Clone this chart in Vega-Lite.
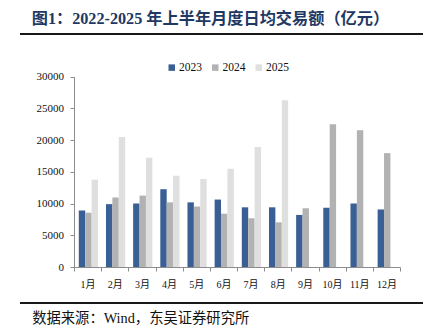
{
  "$schema": "https://vega.github.io/schema/vega-lite/v6.json",
  "width": 403,
  "height": 269,
  "autosize": {"type": "none"},
  "padding": {"left": 20, "top": 34, "right": 8, "bottom": 32},
  "background": "white",
  "title": {
    "text": "图1：2022-2025 年上半年月度日均交易额（亿元）",
    "anchor": "start",
    "frame": "group",
    "dx": 11.7,
    "offset": 6,
    "font": "Liberation Serif, Noto Sans CJK SC",
    "fontSize": 16.2,
    "fontWeight": "bold",
    "color": "#1F3864"
  },
  "config": {"view": {"stroke": null}},
  "layer": [
    {
      "data": {"values": [{"edge": 0}, {"edge": 1}]},
      "mark": {"type": "rule", "color": "black", "stroke": "black", "strokeWidth": 2, "opacity": 0.9},
      "encoding": {
        "y": {"field": "edge", "type": "quantitative", "scale": {"domain": [0, 1], "nice": false, "zero": false}, "axis": null}
      }
    },
    {
      "data": {
        "values": [
          {"month": "1月", "year": "2023", "value": 8900},
          {"month": "1月", "year": "2024", "value": 8550},
          {"month": "1月", "year": "2025", "value": 13750},
          {"month": "2月", "year": "2023", "value": 9900},
          {"month": "2月", "year": "2024", "value": 10950},
          {"month": "2月", "year": "2025", "value": 20470},
          {"month": "3月", "year": "2023", "value": 10000},
          {"month": "3月", "year": "2024", "value": 11250},
          {"month": "3月", "year": "2025", "value": 17190},
          {"month": "4月", "year": "2023", "value": 12250},
          {"month": "4月", "year": "2024", "value": 10180},
          {"month": "4月", "year": "2025", "value": 14375},
          {"month": "5月", "year": "2023", "value": 10180},
          {"month": "5月", "year": "2024", "value": 9520},
          {"month": "5月", "year": "2025", "value": 13850},
          {"month": "6月", "year": "2023", "value": 10620},
          {"month": "6月", "year": "2024", "value": 8390},
          {"month": "6月", "year": "2025", "value": 15470},
          {"month": "7月", "year": "2023", "value": 9400},
          {"month": "7月", "year": "2024", "value": 7680},
          {"month": "7月", "year": "2025", "value": 18900},
          {"month": "8月", "year": "2023", "value": 9400},
          {"month": "8月", "year": "2024", "value": 7030},
          {"month": "8月", "year": "2025", "value": 26250},
          {"month": "9月", "year": "2023", "value": 8200},
          {"month": "9月", "year": "2024", "value": 9250},
          {"month": "10月", "year": "2023", "value": 9330},
          {"month": "10月", "year": "2024", "value": 22470},
          {"month": "11月", "year": "2023", "value": 10000},
          {"month": "11月", "year": "2024", "value": 21520},
          {"month": "12月", "year": "2023", "value": 9060},
          {"month": "12月", "year": "2024", "value": 17930}
        ]
      },
      "mark": {"type": "bar"},
      "encoding": {
        "x": {
          "field": "month",
          "type": "nominal",
          "sort": ["1月", "2月", "3月", "4月", "5月", "6月", "7月", "8月", "9月", "10月", "11月", "12月"],
          "scale": {"range": [54, 380], "paddingInner": 0, "paddingOuter": 0},
          "axis": {
            "offset": -36,
            "tickBand": "extent",
            "labelAngle": 0,
            "domainColor": "#8c8c8c",
            "tickColor": "#8c8c8c",
            "tickSize": 4,
            "labelFont": "Liberation Serif, Noto Sans CJK SC",
            "labelFontSize": 10,
            "labelColor": "#111111",
            "labelPadding": 8,
            "title": "数据来源：Wind，东吴证券研究所",
            "titleX": 11.7,
            "titleY": 51,
            "titleAlign": "left",
            "titleBaseline": "middle",
            "titleFont": "Liberation Serif, Noto Sans CJK SC",
            "titleFontSize": 14.3,
            "titleFontWeight": "normal",
            "titleColor": "#111111"
          }
        },
        "xOffset": {
          "field": "year",
          "type": "nominal",
          "scale": {"range": [4.8, 24], "paddingInner": 0, "paddingOuter": 0}
        },
        "y": {
          "field": "value",
          "type": "quantitative",
          "scale": {"domain": [0, 30000], "range": [233, 42.5], "nice": false},
          "axis": {
            "offset": -54,
            "values": [0, 5000, 10000, 15000, 20000, 25000, 30000],
            "format": "d",
            "grid": false,
            "domainColor": "#8c8c8c",
            "tickColor": "#8c8c8c",
            "tickSize": 4,
            "labelFont": "Liberation Serif",
            "labelFontSize": 11,
            "labelColor": "#111111",
            "labelPadding": 6.5,
            "title": null
          }
        },
        "color": {
          "field": "year",
          "type": "nominal",
          "scale": {"domain": ["2023", "2024", "2025"], "range": ["#3A5F94", "#B2B2B2", "#DFDFDF"]},
          "legend": {
            "orient": "none",
            "legendX": 146,
            "legendY": 27.5,
            "direction": "horizontal",
            "title": null,
            "symbolType": "square",
            "symbolSize": 42,
            "symbolStrokeWidth": 0,
            "labelFont": "Liberation Serif",
            "labelFontSize": 11.5,
            "labelColor": "#111111",
            "labelOffset": 1.5,
            "columnPadding": 7.5,
            "padding": 0
          }
        }
      }
    }
  ],
  "resolve": {"scale": {"y": "independent"}, "axis": {"y": "independent"}}
}
